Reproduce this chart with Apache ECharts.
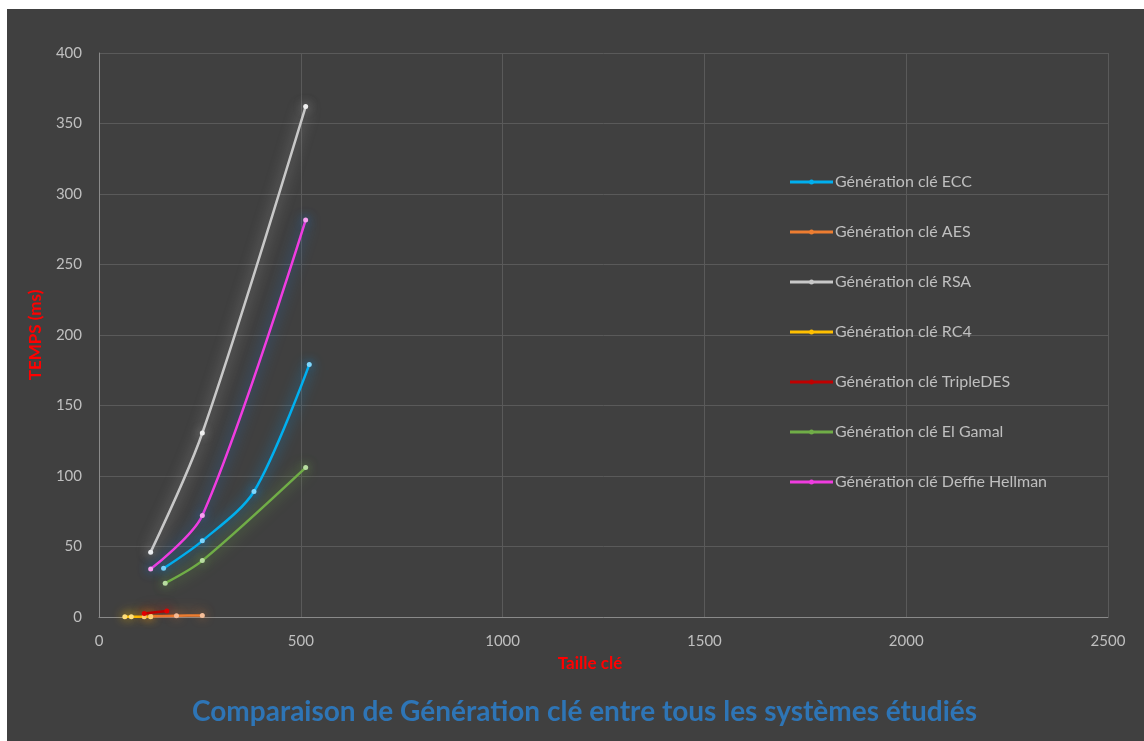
<!DOCTYPE html>
<html>
<head>
<meta charset="utf-8">
<script src="https://cdn.jsdelivr.net/npm/echarts@6/dist/echarts.min.js"></script>
<style>
  html, body { margin: 0; padding: 0; background: #ffffff; width: 1144px; height: 741px; overflow: hidden; }
  #chart { position: absolute; left: 7px; top: 9px; width: 1137px; height: 732px; }
</style>
</head>
<body>
<div id="chart"></div>
<script>
// Key size (bits) vs. key generation time (ms) per cryptosystem
const seriesNames = [
  'Génération clé ECC',
  'Génération clé AES',
  'Génération clé RSA',
  'Génération clé RC4',
  'Génération clé TripleDES',
  'Génération clé El Gamal',
  'Génération clé Deffie Hellman'
];

const eccData       = [[160, 34.5], [256, 54], [384, 89], [521, 179]];
const aesData       = [[128, 0.6], [192, 0.9], [256, 1.1]];
const rsaData       = [[128, 46], [256, 130.5], [512, 362]];
const rc4Data       = [[64, 0.2], [80, 0.2], [112, 0.2], [128, 0.2]];
const tripleDesData = [[112, 2.5], [168, 4.3]];
const elGamalData   = [[164, 24], [256, 40], [512, 106]];
const dhData        = [[128, 34], [256, 72], [512, 281.5]];

const xTicks = [0, 500, 1000, 1500, 2000, 2500];
const yTicks = [0, 50, 100, 150, 200, 250, 300, 350, 400];

const lineColors  = ['#00b0f0', '#ed7d31', '#c8c8c8', '#ffc000', '#c00000', '#70ad47', '#f03ce0'];
const pointColors = ['#7fd8ff', '#f6be98', '#f0f0f0', '#ffe080', '#e00000', '#b8dca0', '#f7a0f0'];
const glowColors  = [
  'rgba(0,150,240,0.85)',
  'rgba(237,125,49,0.75)',
  'rgba(225,225,225,0.55)',
  'rgba(255,192,0,0.85)',
  'rgba(192,0,0,0.6)',
  'rgba(112,173,71,0.85)',
  'rgba(30,120,220,0.8)'
];
const allData = [eccData, aesData, rsaData, rc4Data, tripleDesData, elGamalData, dhData];

// legend marker: a short line with a small dot in the middle
const legendIcon = 'path://M0,1 L43,1 L43,4 L0,4 Z M19,2.5 A2.5,2.5 0 1 1 24,2.5 A2.5,2.5 0 1 1 19,2.5 Z';

const chart = echarts.init(document.getElementById('chart'));

const series = seriesNames.map((name, i) => ({
  name: name,
  type: 'line',
  data: allData[i],
  smooth: 0.3,
  symbol: 'circle',
  symbolSize: 5,
  showSymbol: true,
  lineStyle: {
    color: lineColors[i],
    width: 2.5,
    shadowBlur: 14,
    shadowColor: glowColors[i]
  },
  itemStyle: {
    color: pointColors[i],
    borderWidth: 0,
    shadowBlur: 10,
    shadowColor: glowColors[i]
  },
  emphasis: { disabled: true },
  z: 2 + i
}));

const plainNumber = v => String(v);

chart.setOption({
  backgroundColor: '#404040',
  animation: false,
  textStyle: { fontFamily: 'Lato, "Open Sans", sans-serif' },
  title: {
    text: 'Comparaison de Génération clé entre tous les systèmes étudiés',
    left: 180,
    top: 684,
    textStyle: { color: '#2e75b6', fontSize: 28, fontWeight: 'bold', fontFamily: 'Lato, "Open Sans", sans-serif' }
  },
  legend: {
    orient: 'vertical',
    left: 778,
    top: 160,
    icon: legendIcon,
    itemWidth: 43,
    itemHeight: 5,
    itemGap: 34,
    data: seriesNames.map((n, i) => ({ name: n, itemStyle: { color: lineColors[i] } })),
    textStyle: { color: '#bfbfbf', fontSize: 16, padding: [0, 0, 0, -3] }
  },
  grid: {
    left: 92,
    right: 36,
    top: 44,
    bottom: 124,
    containLabel: false
  },
  xAxis: {
    type: 'value',
    min: xTicks[0],
    max: xTicks[xTicks.length - 1],
    interval: 500,
    name: 'Taille clé',
    nameLocation: 'middle',
    nameGap: 38,
    nameTextStyle: { color: '#ff0000', fontWeight: 'bold', fontSize: 17, padding: [0, 27, 0, 0] },
    axisLine: { show: true, lineStyle: { color: '#8a8a8a', width: 1 } },
    axisTick: { show: false },
    axisLabel: { color: '#bfbfbf', fontSize: 15, margin: 17, formatter: plainNumber },
    splitLine: { show: true, lineStyle: { color: '#5a5a5a', width: 1 } }
  },
  yAxis: {
    type: 'value',
    min: yTicks[0],
    max: yTicks[yTicks.length - 1],
    interval: 50,
    name: 'TEMPS (ms)',
    nameLocation: 'middle',
    nameGap: 55,
    nameRotate: 90,
    nameTextStyle: { color: '#ff0000', fontWeight: 'bold', fontSize: 17 },
    axisLine: { show: true, lineStyle: { color: '#8a8a8a', width: 1 } },
    axisTick: { show: false },
    axisLabel: { color: '#bfbfbf', fontSize: 15, margin: 17, formatter: plainNumber },
    splitLine: { show: true, lineStyle: { color: '#5a5a5a', width: 1 } }
  },
  series: series
});
</script>
</body>
</html>
